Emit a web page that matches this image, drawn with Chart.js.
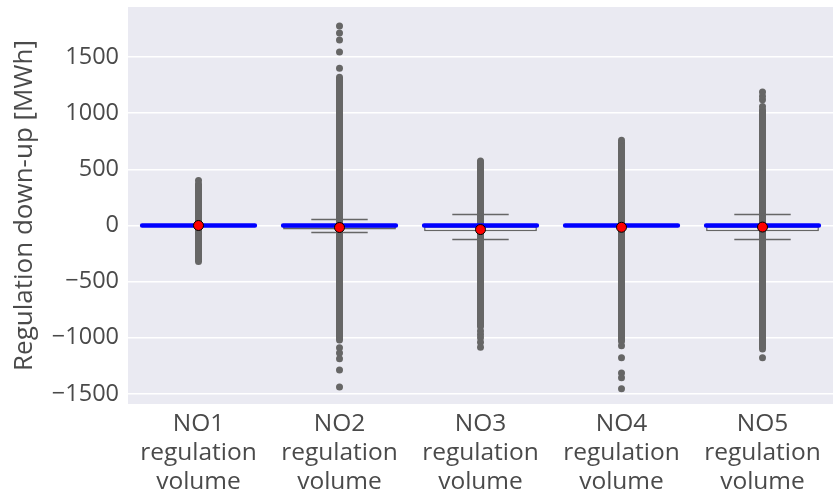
<!DOCTYPE html>
<html>
<head>
<meta charset="utf-8">
<title>Regulation volume by area</title>
<script src="https://cdn.jsdelivr.net/npm/chart.js"></script>
<style>
  html, body { margin: 0; padding: 0; background: #fff; }
  #wrap { width: 839px; height: 497px; }
</style>
</head>
<body>
<div id="wrap"><canvas id="boxChart"></canvas></div>
<script>
// price areas and box statistics (MWh)
const AREAS = ['NO1', 'NO2', 'NO3', 'NO4', 'NO5'];
const Y_TICKS = [-1500, -1000, -500, 0, 500, 1000, 1500];
const Q1 = [0, -35, -52, 0, -52];
const Q3 = [0, 0, 0, 0, 0];
const MEDIAN = [0, 0, 0, 0, 0];
const WHISKER_LO = [0, -62, -125, 0, -125];
const WHISKER_HI = [0, 54, 98, 0, 98];
const MEAN = [0, -18, -36, -16, -14];
// fliers: solid run of overlapping points, plus the stragglers beyond it
const FLIER_RUN_LO = [-320, -1020, -900, -1030, -1100];
const FLIER_RUN_HI = [370, 1320, 560, 740, 1030];
const FLIER_SPARSE = [
  [400],
  [1400, 1545, 1652, 1714, 1777, -1090, -1135, -1188, -1287, -1438],
  [575, -940, -970, -1000, -1040, -1085],
  [760, -1071, -1179, -1313, -1357, -1455],
  [1060, 1120, 1150, 1190, -1179]
];

const GREY = '#666666';
const TEXT = '#4a4a4a';
const FONT = 'Open Sans';
const BOX_W = 0.8;

// segments separated by null points so one line dataset can hold them all
function segments(fn) {
  const pts = [];
  AREAS.forEach((_, i) => {
    fn(i).forEach(p => pts.push(p));
    pts.push({ x: i, y: null });
  });
  return pts;
}

const runs = segments(i => [{ x: i, y: FLIER_RUN_LO[i] }, { x: i, y: FLIER_RUN_HI[i] }]);
const sparse = [];
FLIER_SPARSE.forEach((vals, i) => vals.forEach(v => sparse.push({ x: i, y: v })));
const whiskers = segments(i => [{ x: i, y: WHISKER_LO[i] }, { x: i, y: WHISKER_HI[i] }]);
const caps = [];
AREAS.forEach((_, i) => {
  caps.push({ x: i - BOX_W / 4, y: WHISKER_HI[i] }, { x: i + BOX_W / 4, y: WHISKER_HI[i] }, { x: i, y: null });
  caps.push({ x: i - BOX_W / 4, y: WHISKER_LO[i] }, { x: i + BOX_W / 4, y: WHISKER_LO[i] }, { x: i, y: null });
});
const medians = segments(i => [{ x: i - BOX_W / 2, y: MEDIAN[i] }, { x: i + BOX_W / 2, y: MEDIAN[i] }]);

const plotBg = {
  id: 'plotBg',
  beforeDraw(chart) {
    const { ctx, chartArea: a } = chart;
    ctx.save();
    ctx.fillStyle = '#eaeaf2';
    ctx.fillRect(a.left, a.top, a.right - a.left, a.bottom - a.top);
    ctx.restore();
  }
};

const segLine = (data, color, width, order, cap) => ({
  type: 'line', data, borderColor: color, borderWidth: width, borderCapStyle: cap || 'butt',
  pointRadius: 0, spanGaps: false, tension: 0, order
});

new Chart(document.getElementById('boxChart'), {
  type: 'bar',
  data: {
    datasets: [
      segLine(runs, GREY, 7, 6, 'round'),
      { type: 'scatter', data: sparse, pointRadius: 3.5, pointBackgroundColor: GREY, pointBorderWidth: 0, order: 5 },
      { type: 'bar', data: AREAS.map((_, i) => ({ x: i, y: [Q1[i], Q3[i]] })),
        backgroundColor: '#eaeaf2', borderColor: GREY, borderWidth: 1.5, borderSkipped: false,
        categoryPercentage: 1, barPercentage: BOX_W, order: 4 },
      segLine(whiskers, GREY, 1.5, 3),
      segLine(caps, GREY, 1.5, 3),
      segLine(medians, '#0000ff', 4.5, 2, 'round'),
      { type: 'scatter', data: MEAN.map((m, i) => ({ x: i, y: m })), pointRadius: 5,
        pointBackgroundColor: '#ff0000', pointBorderColor: '#000', pointBorderWidth: 1, order: 1 }
    ]
  },
  options: {
    responsive: true,
    maintainAspectRatio: false,
    animation: false,
    layout: { padding: { top: 7, right: 3, left: 0, bottom: 0 } },
    plugins: { legend: { display: false }, tooltip: { enabled: false } },
    scales: {
      x: {
        type: 'linear', min: -0.5, max: 4.5, offset: false,
        grid: { display: false }, border: { display: false },
        afterBuildTicks: s => { s.ticks = AREAS.map((_, i) => ({ value: i })); },
        afterFit: s => { s.height = 93; s.paddingLeft = 0; s.paddingRight = 0; },
        ticks: {
          autoSkip: false, maxRotation: 0, padding: -3, color: TEXT,
          font: { family: FONT, size: 24.5, lineHeight: 1.19 },
          callback: v => [AREAS[v], 'regulation', 'volume']
        }
      },
      y: {
        min: -1590, max: 1946,
        grid: { color: '#ffffff', lineWidth: 1.5, drawTicks: false }, border: { display: false },
        afterBuildTicks: s => { s.ticks = Y_TICKS.map(v => ({ value: v })); },
        afterFit: s => { s.width = 128; s.paddingTop = 0; s.paddingBottom = 0; },
        ticks: {
          padding: 9, color: TEXT, font: { family: FONT, size: 23.5 },
          callback: v => (v < 0 ? '\u2212' + Math.abs(v) : String(v))
        },
        title: {
          display: true, text: 'Regulation down-up [MWh]', color: TEXT,
          font: { family: FONT, size: 26 }, padding: { top: 8.5, bottom: 0 }
        }
      }
    }
  },
  plugins: [plotBg]
});
</script>
</body>
</html>
